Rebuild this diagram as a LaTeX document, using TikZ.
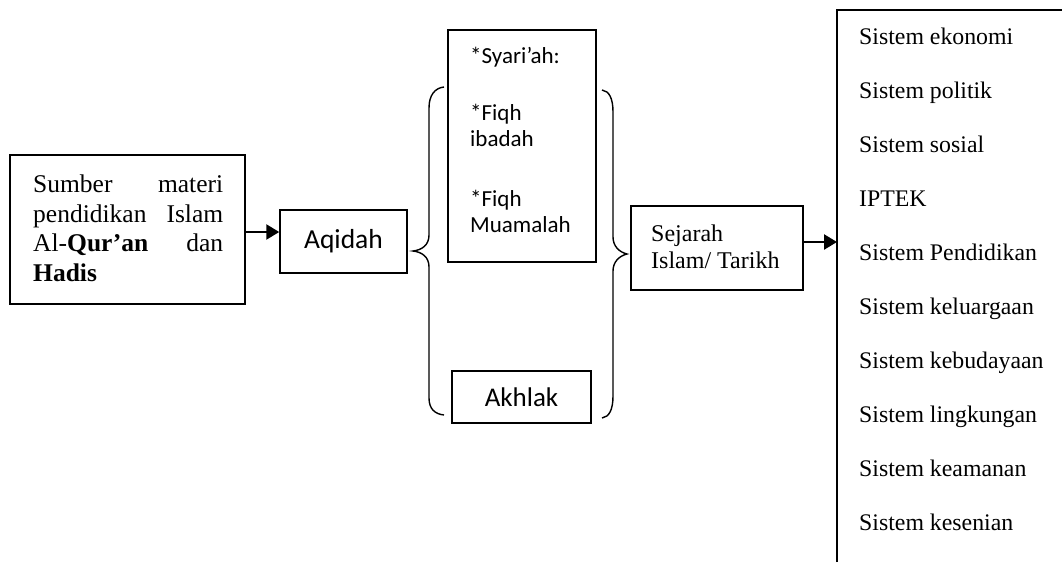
\documentclass[tikz,border=0pt]{standalone}
\usepackage{fontspec}
\setmainfont{Liberation Serif}
\newfontfamily\calibri{Carlito}
\usetikzlibrary{arrows.meta}
\begin{document}
\begin{tikzpicture}[x=1pt,y=-1pt,
  box/.style={draw, line width=1.5pt, inner sep=0pt},
  txt/.style={inner sep=0pt, anchor=base west},
  brace/.style={line width=1.4pt},
  arr/.style={line width=2.5pt, -{Triangle[length=13pt,width=15pt]}}]
\useasboundingbox (0,0) rectangle (1062,562);
% boxes
\node[box, minimum width=235pt, minimum height=149pt] (L) at (127.5,229.5) {};
\node[box, minimum width=127pt, minimum height=63pt, font=\calibri\fontsize{27.5}{32}\selectfont] (A) at (343.5,241.5) {Aqidah};
\node[box, minimum width=148pt, minimum height=232pt] (S) at (522,146) {};
\node[box, minimum width=139pt, minimum height=52pt, font=\calibri\fontsize{27}{32}\selectfont] (K) at (521.5,397) {Akhlak};
\node[box, minimum width=172pt, minimum height=84pt] (J) at (717,248) {};
% texts
\node[txt, font=\fontsize{25.5}{29.5}\selectfont] (LT) at (33,192.5) {\begin{tabular}[t]{@{}l@{}}
\makebox[190pt][l]{Sumber\hfill materi}\\
\makebox[190pt][l]{pendidikan\hfill Islam}\\
\makebox[190pt][l]{Al-\textbf{Qur’an}\hfill dan}\\
\textbf{Hadis}
\end{tabular}};
\node[txt, font=\calibri\fontsize{23}{26}\selectfont] (ST) at (470,63) {\begin{tabular}[t]{@{}l@{}}
*Syari’ah:\\[31pt]
*Fiqh\\
ibadah\\[34pt]
*Fiqh\\
Muamalah
\end{tabular}};
\node[txt, font=\fontsize{24}{27.5}\selectfont] (JT) at (651,241) {\begin{tabular}[t]{@{}l@{}}
Sejarah\\
Islam/ Tarikh
\end{tabular}};
\node[txt, font=\fontsize{23.8}{54}\selectfont] (RT) at (859,44) {\begin{tabular}[t]{@{}l@{}}
Sistem ekonomi\\
Sistem politik\\
Sistem sosial\\
IPTEK\\
Sistem Pendidikan\\
Sistem keluargaan\\
Sistem kebudayaan\\
Sistem lingkungan\\
Sistem keamanan\\
Sistem kesenian
\end{tabular}};
% right open box
\coordinate (Rtop) at (837,10);
\coordinate (Rbot) at (837,562);
\coordinate (Rend) at (1062,10);
\draw[line width=1.5pt] (Rbot) -- (Rtop) -- (Rend);
% braces
\draw[brace] (444,87) .. controls (435,88) and (429,95) .. (429,108) -- (429,235)
  .. controls (429,245) and (422,250) .. (413,251)
  .. controls (422,252) and (429,257) .. (429,267) -- (429,398)
  .. controls (429,409) and (435,414) .. (444,415);
\draw[brace] (602,90) .. controls (609,91) and (613,98) .. (613,112) -- (613,237)
  .. controls (613,246) and (619,252) .. (627,254)
  .. controls (619,256) and (613,262) .. (613,271) -- (613,396)
  .. controls (613,410) and (609,417) .. (602,418);
% arrows
\path ([yshift=-2.5pt]L.east) coordinate (l1);
\draw[arr] (l1) -- (l1 -| A.west);
\path ([yshift=6pt]J.east) coordinate (j1);
\draw[arr] (j1) -- (j1 -| Rtop);
\end{tikzpicture}
\end{document}
